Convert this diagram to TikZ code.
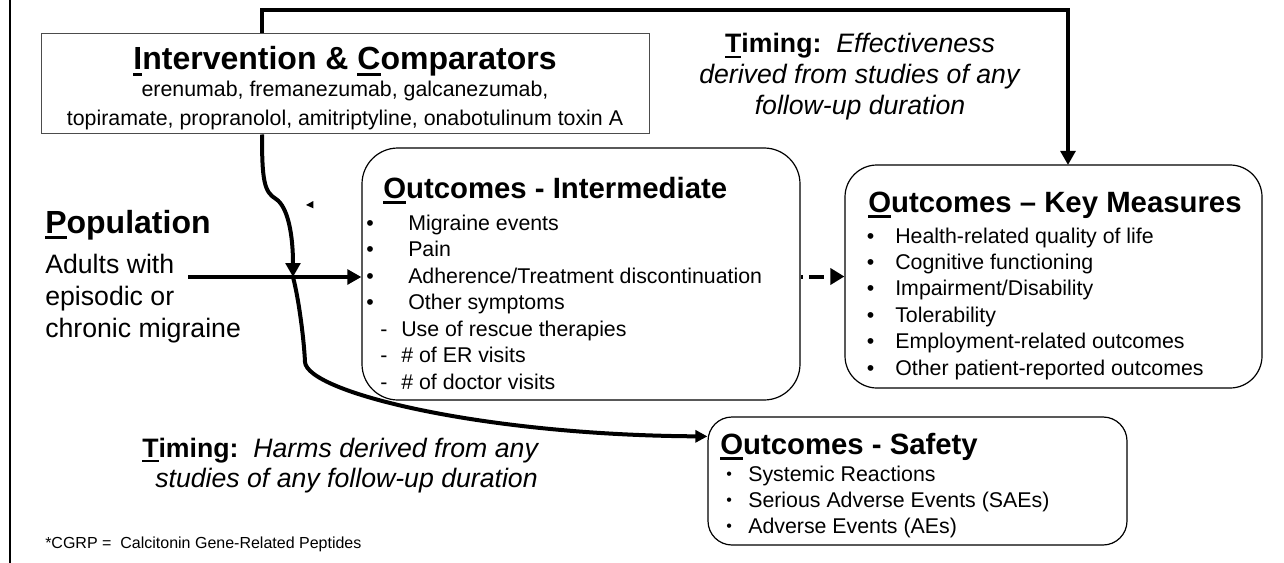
\documentclass[tikz,border=0pt]{standalone}
\usepackage{fontspec}
\setmainfont{Liberation Sans}
\usetikzlibrary{arrows.meta}

% underline the first letter of a heading with a heavy rule
\newcommand\ulfirst[1]{\setbox0\hbox{#1}\rlap{\rule[-0.2em]{\wd0}{0.095em}}\box0}
\newcommand\setfs[2]{\fontsize{#1}{#2}\selectfont}
% bullet line: width of bullet column, text
\newcommand\bitem[2]{\makebox[#1][l]{•}#2}
\newcommand\ditem[1]{\makebox[26.25pt][l]{\hspace*{10.5pt}-}#1}

\begin{document}
\begin{tikzpicture}[x=0.75pt,y=-0.75pt,
  ibox/.style={draw=black!70, line width=0.75pt, fill=white, inner sep=0},
  obox/.style={draw=black, line width=0.9pt, fill=white, inner sep=0},
  txt/.style={inner sep=0, anchor=base west},
  flow/.style={line width=3pt, -{Triangle[length=10.5pt,width=11pt]}},
  flowsmall/.style={line width=3pt, -{Triangle[length=9pt,width=9pt]}},
  dashflow/.style={line width=3pt, dash pattern=on 1.9pt off 4.3pt on 11.3pt off 20pt,
                   -{Triangle[length=10.5pt,width=12pt]}}]
\useasboundingbox (0,0) rectangle (1284,563);

% frame line on the left
\draw[line width=1.9pt] (10,0) -- (10,563);

% turning points of the connectors
\coordinate (ctop) at (262,10);
\coordinate (kin) at (1068,10);
\coordinate (cross) at (293,277);
\coordinate (popout) at (188,277);

% effectiveness connector over the top
\draw[flow] (ctop |- 0,34) -- (ctop) -- (kin) -- (kin |- 0,165);

% boxes
\node[ibox, minimum width=456pt, minimum height=75pt] (interv) at (345,84) {};
\node[obox, rounded corners=27pt, minimum width=328.5pt, minimum height=189pt] (inter) at (581,274) {};
\node[obox, rounded corners=24pt, minimum width=312.75pt, minimum height=167.25pt] (key) at (1053.5,276.5) {};
\node[obox, rounded corners=18pt, minimum width=314.25pt, minimum height=96pt] (safety) at (917.5,481) {};

% intervention and comparators
\node[inner sep=0, anchor=base] (ititle) at (345,70)
  {\setfs{24}{28}\bfseries\ulfirst{I}ntervention \& \ulfirst{C}omparators};
\node[inner sep=0, anchor=base] (idrugs) at (345,97)
  {\parbox[t]{600pt}{\centering\setfs{16}{21.75}erenumab, fremanezumab, galcanezumab,\\
   topiramate, propranolol, amitriptyline, onabotulinum toxin A}};

% population
\node[txt] (pophead) at (45,233) {\setfs{24}{28}\bfseries\ulfirst{P}opulation};
\node[txt] (poptext) at (45,273)
  {\parbox[t]{200pt}{\raggedright\setfs{20}{24}Adults with\\episodic or\\chronic migraine}};

% intermediate outcomes
\node[txt] (interhead) at (383,198) {\setfs{22}{26}\bfseries\ulfirst{O}utcomes - Intermediate};
\node[txt] (interlist) at (366,230)
  {\parbox[t]{320pt}{\raggedright\setfs{16}{19.9}%
   \bitem{31.5pt}{Migraine events}\\
   \bitem{31.5pt}{Pain}\\
   \bitem{31.5pt}{Adherence/Treatment discontinuation}\\
   \bitem{31.5pt}{Other symptoms}\\
   \ditem{Use of rescue therapies}\\
   \ditem{\# of ER visits}\\
   \ditem{\# of doctor visits}}};

% key measures
\node[txt] (keyhead) at (868,212) {\setfs{22}{26}\bfseries\ulfirst{O}utcomes – Key Measures};
\node[txt] (keylist) at (866.5,243)
  {\parbox[t]{300pt}{\raggedright\setfs{16}{19.8}%
   \bitem{21.4pt}{Health-related quality of life}\\
   \bitem{21.4pt}{Cognitive functioning}\\
   \bitem{21.4pt}{Impairment/Disability}\\
   \bitem{21.4pt}{Tolerability}\\
   \bitem{21.4pt}{Employment-related outcomes}\\
   \bitem{21.4pt}{Other patient-reported outcomes}}};

% safety outcomes
\node[txt] (safehead) at (720,454) {\setfs{22}{26}\bfseries\ulfirst{O}utcomes - Safety};
\node[txt] (safelist) at (726,481)
  {\parbox[t]{300pt}{\raggedright\setfs{16}{19.5}%
   \makebox[16.5pt][l]{\setfs{12}{12}\raisebox{0.12em}{•}}Systemic Reactions\\
   \makebox[16.5pt][l]{\setfs{12}{12}\raisebox{0.12em}{•}}Serious Adverse Events (SAEs)\\
   \makebox[16.5pt][l]{\setfs{12}{12}\raisebox{0.12em}{•}}Adverse Events (AEs)}};

% timing notes
\node[inner sep=0, anchor=base] (timetop) at (860,53)
  {\parbox[t]{300pt}{\centering\setfs{20}{22.9}%
   \textbf{\ulfirst{T}iming:}\ \ \textit{Effectiveness}\\
   \textit{derived from studies of any}\\
   \textit{follow-up duration}}};
\node[txt] (timebot) at (142,457)
  {\parbox[t]{320pt}{\raggedright\setfs{20}{22.5}%
   \textbf{\ulfirst{T}iming:}\ \ \textit{Harms derived from any}\\
   \hspace*{9.75pt}\textit{studies of any follow-up duration}}};

% footnote
\node[txt] (foot) at (45,548) {\setfs{12}{14}*CGRP =\ \ Calcitonin Gene-Related Peptides};

% connectors
\draw[flow] (popout) -- (cross -| inter.west);
\draw[flow] (ctop |- interv.south) .. controls (262,180) and (264,192) .. (276,199)
  .. controls (288,207) and (293,235) .. (cross);
\draw[flowsmall] (cross) .. controls (299,300) and (304,340) .. (305,362)
  .. controls (307,392) and (480,435) .. ([yshift=-15pt]safety.north west);
\draw[dashflow] (inter.east |- key.west) -- (key.west);

% small stray arrowhead
\fill (306,205) -- (313.3,201) -- (313.3,208.3) -- cycle;
\end{tikzpicture}
\end{document}
